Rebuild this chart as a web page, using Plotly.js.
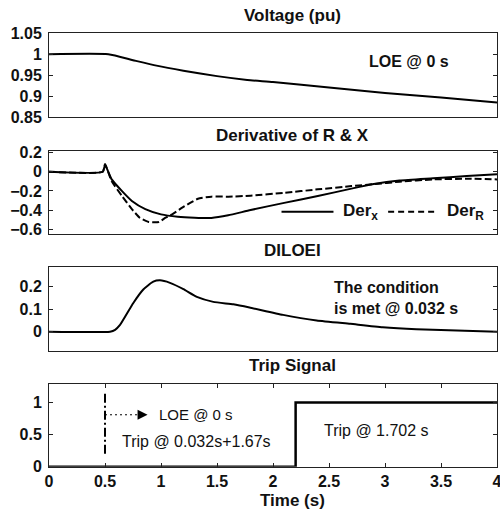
<!DOCTYPE html>
<html>
<head>
<meta charset="utf-8">
<script src="https://cdn.plot.ly/plotly-3.0.1.min.js"></script>
<style>html,body{margin:0;padding:0;background:#fff;}#chart{width:500px;height:512px;}</style>
</head>
<body>
<div id="chart"></div>
<script>
// ---- data ----
const voltT = [0, 0.53, 0.75, 0.96, 1.2, 1.5, 1.77, 2.0, 2.5, 3.0, 3.5, 4.0];
const voltV = [1.0, 1.0, 0.986, 0.973, 0.961, 0.948, 0.939, 0.934, 0.921, 0.908, 0.897, 0.885];

const derXT = [0, 0.48, 0.5, 0.56, 0.65, 0.74, 0.86, 1.0, 1.15, 1.3, 1.45, 1.6, 1.8, 2.1, 2.4, 2.7, 2.9, 3.13, 3.43, 3.73, 4.0];
const derXV = [0, 0, 0.07, -0.08, -0.2, -0.305, -0.39, -0.445, -0.47, -0.48, -0.482, -0.455, -0.40, -0.325, -0.254, -0.176, -0.128, -0.092, -0.068, -0.045, -0.025];

const derRT = [0, 0.48, 0.5, 0.56, 0.65, 0.74, 0.81, 0.89, 0.98, 1.04, 1.1, 1.21, 1.33, 1.45, 1.6, 1.8, 2.1, 2.4, 2.7, 2.9, 3.13, 3.43, 3.73, 4.0];
const derRV = [0, 0, 0.08, -0.1, -0.25, -0.39, -0.48, -0.525, -0.525, -0.48, -0.445, -0.36, -0.282, -0.26, -0.26, -0.25, -0.22, -0.184, -0.15, -0.13, -0.104, -0.08, -0.073, -0.08];

const diloeiT = [0, 0.545, 0.59, 0.634, 0.753, 0.842, 0.931, 0.991, 1.08, 1.2, 1.32, 1.467, 1.646, 1.79, 2.09, 2.39, 2.69, 2.98, 3.28, 3.57, 4.0];
const diloeiV = [0, 0, 0.008, 0.03, 0.128, 0.188, 0.223, 0.229, 0.218, 0.19, 0.155, 0.133, 0.122, 0.108, 0.075, 0.05, 0.035, 0.02, 0.011, 0.006, 0.0];

const tripT = [0, 2.202, 2.202, 4];
const tripV = [0, 0, 1, 1];

const LOE_TIME = 0.5;
const xTicks = [0, 0.5, 1, 1.5, 2, 2.5, 3, 3.5, 4];

// ---- styling ----
const FONT = 'Liberation Sans, Arial, sans-serif';
const TXT = '#111';
const LINE = '#222';

function yax(range, dtick, domain, anchor) {
  return {
    domain: domain, range: range, dtick: dtick, anchor: anchor,
    showline: true, linecolor: LINE, linewidth: 1, mirror: 'ticks',
    ticks: 'inside', ticklen: 4, tickcolor: LINE,
    showgrid: false, zeroline: false,
    tickfont: {family: FONT, size: 16, weight: 'bold', color: TXT},
    ticklabelstandoff: 3
  };
}
function xax(anchor, labels) {
  return {
    domain: [0, 1], range: [0, 4], anchor: anchor,
    showline: true, linecolor: LINE, linewidth: 1, mirror: labels ? 'ticks' : true,
    ticks: labels ? 'inside' : '', ticklen: 4, tickcolor: LINE,
    tickvals: xTicks, showticklabels: labels, ticklabeloverflow: 'allow',
    showgrid: false, zeroline: false,
    tickfont: {family: FONT, size: 16, weight: 'bold', color: TXT}
  };
}

const smooth = {shape: 'spline', smoothing: 0.5};
const traces = [
  {x: voltT, y: voltV, xaxis: 'x', yaxis: 'y', mode: 'lines', line: Object.assign({color: '#000', width: 2}, smooth)},
  {x: derRT, y: derRV, xaxis: 'x2', yaxis: 'y2', mode: 'lines', line: Object.assign({color: '#000', width: 2, dash: '7px,3px'}, smooth)},
  {x: derXT, y: derXV, xaxis: 'x2', yaxis: 'y2', mode: 'lines', line: Object.assign({color: '#000', width: 2}, smooth)},
  {x: diloeiT, y: diloeiV, xaxis: 'x3', yaxis: 'y3', mode: 'lines', line: Object.assign({color: '#000', width: 2}, smooth)},
  {x: tripT, y: tripV, xaxis: 'x4', yaxis: 'y4', mode: 'lines', line: {color: '#000', width: 2.5}, cliponaxis: false}
];

const titleFont = {family: FONT, size: 17, weight: 'bold', color: TXT};
const txtBold = {family: FONT, size: 16, weight: 'bold', color: TXT};

function title(text, y) {
  return {text: text, xref: 'paper', yref: 'paper', x: 0.544, y: y, xanchor: 'center', yanchor: 'middle', showarrow: false, font: titleFont};
}

const layout = {
  width: 500, height: 512,
  margin: {l: 49, r: 3, t: 0, b: 0},
  paper_bgcolor: '#fff', plot_bgcolor: '#fff',
  showlegend: false,
  xaxis: xax('y', false),
  xaxis2: xax('y2', false),
  xaxis3: xax('y3', false),
  xaxis4: xax('y4', true),
  yaxis: yax([0.85, 1.05], 0.05, [0.7709, 0.9350], 'x'),
  yaxis2: yax([-0.65, 0.22], 0.2, [0.5430, 0.7057], 'x2'),
  yaxis3: yax([-0.085, 0.29], 0.1, [0.3150, 0.4791], 'x3'),
  yaxis4: yax([0, 1.29], 0.5, [0.0885, 0.25], 'x4'),
  shapes: [
    {type: 'line', xref: 'x4', yref: 'y4', x0: LOE_TIME, x1: LOE_TIME, y0: 0.2, y1: 1.15,
     line: {color: '#000', width: 2, dash: '9px,3px,2px,3px'}},
    {type: 'line', xref: 'x4', yref: 'y4', x0: LOE_TIME, x1: 0.8, y0: 0.81, y1: 0.81,
     line: {color: '#000', width: 1, dash: '2px,3px'}},
    // legend samples
    {type: 'line', xref: 'x2 domain', yref: 'y2 domain', x0: 0.519, x1: 0.635, y0: 0.268, y1: 0.268,
     line: {color: '#000', width: 2}},
    {type: 'line', xref: 'x2 domain', yref: 'y2 domain', x0: 0.757, x1: 0.865, y0: 0.268, y1: 0.268,
     line: {color: '#000', width: 2, dash: '6px,4px'}}
  ],
  annotations: [
    title('Voltage (pu)', 0.9688),
    title('Derivative of R &amp; X', 0.7363),
    title('DILOEI', 0.5117),
    title('Trip Signal', 0.2852),
    title('Time (s)', 0.0234),

    {text: 'LOE @ 0 s', xref: 'x', yref: 'y', x: 2.84, y: 0.982, xanchor: 'left', yanchor: 'middle', showarrow: false, font: txtBold},
    {text: 'The condition<br>is met @ 0.032 s', xref: 'x3', yref: 'y3', x: 2.53, y: 0.152, xanchor: 'left', yanchor: 'middle', align: 'left', showarrow: false, font: txtBold},

    {text: 'Der<sub>x</sub>', xref: 'x2 domain', yref: 'y2 domain', x: 0.651, y: 0.268, xanchor: 'left', yanchor: 'middle', showarrow: false, font: {family: FONT, size: 17, weight: 'bold', color: TXT}},
    {text: 'Der<sub>R</sub>', xref: 'x2 domain', yref: 'y2 domain', x: 0.884, y: 0.268, xanchor: 'left', yanchor: 'middle', showarrow: false, font: {family: FONT, size: 17, weight: 'bold', color: TXT}},

    {text: '', xref: 'x4', yref: 'y4', x: 0.88, y: 0.81, axref: 'x4', ayref: 'y4', ax: 0.78, ay: 0.81,
     showarrow: true, arrowhead: 2, arrowsize: 2, arrowwidth: 1, arrowcolor: '#000', standoff: 0},
    {text: 'LOE @ 0 s', xref: 'x4', yref: 'y4', x: 0.96, y: 0.81, xanchor: 'left', yanchor: 'middle', showarrow: false, font: {family: FONT, size: 15, color: TXT}},
    {text: 'Trip @ 0.032s+1.67s', xref: 'x4', yref: 'y4', x: 0.63, y: 0.40, xanchor: 'left', yanchor: 'middle', showarrow: false, font: {family: FONT, size: 16, color: TXT}},
    {text: 'Trip @ 1.702 s', xref: 'x4', yref: 'y4', x: 2.44, y: 0.56, xanchor: 'left', yanchor: 'middle', showarrow: false, font: {family: FONT, size: 16, color: TXT}}
  ]
};

Plotly.newPlot('chart', traces, layout, {staticPlot: true, displayModeBar: false});
</script>
</body>
</html>
